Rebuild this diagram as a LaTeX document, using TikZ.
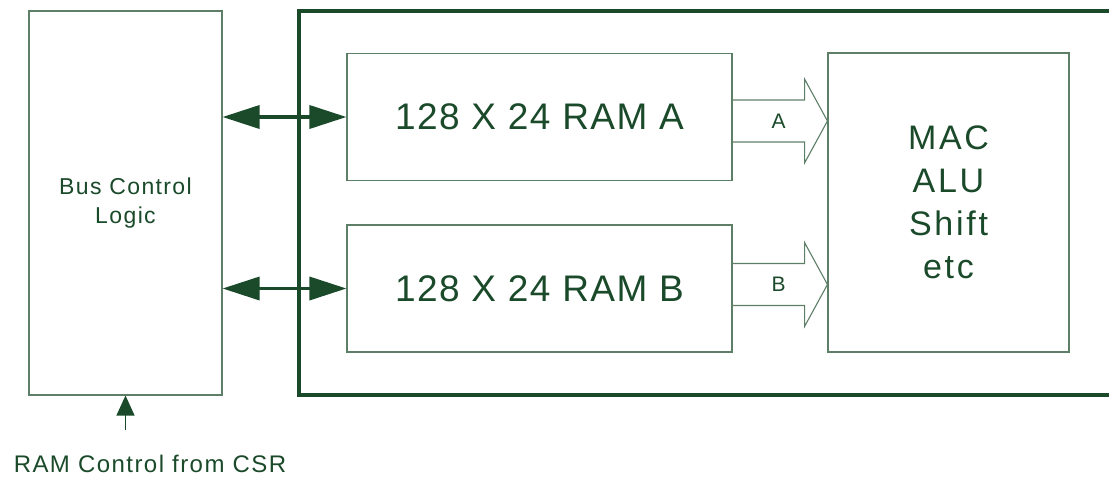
\documentclass[tikz,border=0pt]{standalone}
\usepackage{fontspec}
\setmainfont{Liberation Sans}
\newfontfamily\ramfont[LetterSpace=4]{Liberation Sans}
\newfontfamily\macfont[LetterSpace=8]{Liberation Sans}
\newfontfamily\smallfont[LetterSpace=6]{Liberation Sans}
\usetikzlibrary{positioning,arrows.meta,calc}
\definecolor{ink}     {HTML}{1A4A2A}
\definecolor{boxline} {HTML}{5E7F67}
\tikzset{
  % --- nodes
  blk/.style    = {draw=boxline, line width=1.1pt, fill=white, inner sep=0pt,
                   align=center, text=ink},
  ram/.style    = {blk, minimum width=385pt, minimum height=127pt,
                   font=\ramfont\fontsize{37}{40}\selectfont},
  tag/.style    = {text=ink, inner sep=0pt, font=\smallfont\fontsize{21}{24}\selectfont},
  % --- edges
  busarrow/.style = {{Triangle[length=37pt,width=23pt]}-{Triangle[length=37pt,width=23pt]},
                     draw=ink, fill=ink, line width=3.5pt},
  ctlarrow/.style = {-{Triangle[length=20pt,width=18pt]}, draw=ink, fill=ink, line width=1.3pt},
  fatarrow/.style = {draw=boxline, line width=1.1pt, line join=miter},
  frame/.style    = {draw=ink, line width=4pt},
}
\begin{document}
\begin{tikzpicture}[x=1pt,y=-1pt]
  \path[use as bounding box, clip] (0,0) rectangle (1109,477);
  % outer frame, runs off the right edge
  \draw[frame] (298.5,11) rectangle (1140,395);
  \node[blk, minimum width=193pt, minimum height=384pt,
        font=\smallfont\fontsize{23}{29}\selectfont] (bus) at (125.5,203) {Bus Control\\Logic};
  \node[ram] (ramA) at (539.5,117) {128 X 24 RAM A};
  \node[ram] (ramB) at (539.5,288.5) {128 X 24 RAM B};
  \node[blk, minimum width=241pt, minimum height=299pt,
        font=\macfont\fontsize{34}{43}\selectfont] (mac) at (948.5,202.5) {MAC\\ALU\\Shift\\etc};
  % bus links
  \draw[busarrow] (bus.east |- ramA.west) -- (ramA.west);
  \draw[busarrow] (bus.east |- ramB.west) -- (ramB.west);
  % wide data paths
  \coordinate (pa) at (ramA.east |- 0,121);
  \coordinate (pb) at (ramB.east |- 0,284.5);
  \draw[fatarrow] ($(pa)+(0,-21)$) -- ++(72,0) -- ++(0,-21) -- (mac.west |- pa)
        -- ($(pa)+(72,42)$) -- ++(0,-21) -- ++(-72,0);
  \draw[fatarrow] ($(pb)+(0,-21)$) -- ++(72,0) -- ++(0,-21) -- (mac.west |- pb)
        -- ($(pb)+(72,42)$) -- ++(0,-21) -- ++(-72,0);
  \node[tag] (la) at ($(pa)+(46,0)$) {A};
  \node[tag] (lb) at ($(pb)+(46,0)$) {B};
  % control input
  \node[tag, font=\smallfont\fontsize{24}{27}\selectfont] (csr) at (150,463.5) {RAM Control from CSR};
  \coordinate (ctl) at (125.5,430);
  \draw[ctlarrow] (ctl) -- (bus.south);
\end{tikzpicture}
\end{document}
